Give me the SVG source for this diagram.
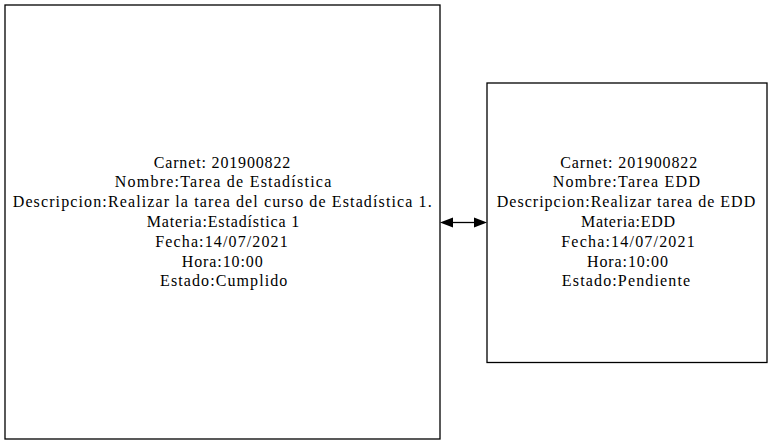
<svg xmlns="http://www.w3.org/2000/svg" width="773" height="445" viewBox="0 0 773 445">
<style>
.box{fill:#fff;stroke:#000;stroke-width:1.3}
.t{font-family:"Liberation Serif","Times New Roman",serif;font-size:16px;fill:#000;text-anchor:middle}
.edge{stroke:#000;stroke-width:1.3;fill:none}
</style>
<rect width="773" height="445" fill="#fff"/>
<g id="edges">
<line class="edge" x1="453" y1="222.5" x2="474" y2="222.5"/>
<path d="M440,222.5 L453,217.5 L453,227.5 Z" fill="#000"/>
<path d="M487,222.5 L474,217.5 L474,227.5 Z" fill="#000"/>
</g>
<g id="node1">
<rect class="box" x="5" y="5" width="435" height="434"/>
<text class="t" x="222" y="167.5" textLength="136.5" lengthAdjust="spacing">Carnet: 201900822</text>
<text class="t" x="223" y="187.3" textLength="216.5" lengthAdjust="spacing">Nombre:Tarea de Estadística</text>
<text class="t" x="222.2" y="207.1" textLength="419" lengthAdjust="spacing">Descripcion:Realizar la tarea del curso de Estadística 1.</text>
<text class="t" x="223" y="226.9" textLength="152.5" lengthAdjust="spacing">Materia:Estadística 1</text>
<text class="t" x="221.5" y="246.7" textLength="132.5" lengthAdjust="spacing">Fecha:14/07/2021</text>
<text class="t" x="222.2" y="266.5" textLength="81" lengthAdjust="spacing">Hora:10:00</text>
<text class="t" x="223.7" y="286.3" textLength="127.3" lengthAdjust="spacing">Estado:Cumplido</text>
</g>
<g id="node2">
<rect class="box" x="487" y="83" width="280" height="279.5"/>
<text class="t" x="628.7" y="167.5" textLength="137" lengthAdjust="spacing">Carnet: 201900822</text>
<text class="t" x="626.3" y="187.3" textLength="147.3" lengthAdjust="spacing">Nombre:Tarea EDD</text>
<text class="t" x="626" y="207.1" textLength="258.5" lengthAdjust="spacing">Descripcion:Realizar tarea de EDD</text>
<text class="t" x="628" y="226.9" textLength="94" lengthAdjust="spacing">Materia:EDD</text>
<text class="t" x="628" y="246.7" textLength="133.5" lengthAdjust="spacing">Fecha:14/07/2021</text>
<text class="t" x="627.5" y="266.5" textLength="81" lengthAdjust="spacing">Hora:10:00</text>
<text class="t" x="626" y="286.3" textLength="128.3" lengthAdjust="spacing">Estado:Pendiente</text>
</g>
</svg>
